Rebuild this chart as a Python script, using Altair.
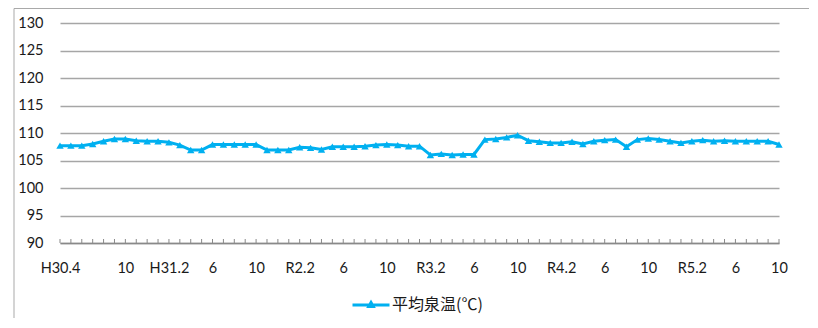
import altair as alt
import pandas as pd

# Monthly categories: H30.4 (2018-04) .. R5.10 (2023-10)
months = [f"{y}-{m:02d}" for y in range(2018, 2024) for m in range(1, 13)][3:3 + 67]

temps = [
    107.7, 107.7, 107.7, 108.0, 108.5, 108.9, 108.9, 108.6, 108.5, 108.5,
    108.3, 107.8, 106.9, 106.9, 107.9, 107.9, 107.9, 107.9, 107.9, 106.9,
    106.9, 106.9, 107.4, 107.3, 107.0, 107.5, 107.5, 107.5, 107.6, 107.8,
    107.9, 107.8, 107.6, 107.6, 106.0, 106.2, 106.0, 106.1, 106.1, 108.8,
    108.9, 109.2, 109.6, 108.6, 108.4, 108.2, 108.2, 108.4, 108.0, 108.5,
    108.7, 108.8, 107.5, 108.8, 109.0, 108.8, 108.5, 108.2, 108.5, 108.7,
    108.5, 108.6, 108.5, 108.5, 108.5, 108.5, 107.9,
]

label_months = ["2018-04", "2018-10", "2019-02", "2019-06", "2019-10", "2020-02",
                "2020-06", "2020-10", "2021-02", "2021-06", "2021-10", "2022-02",
                "2022-06", "2022-10", "2023-02", "2023-06", "2023-10"]
label_texts = ["H30.4", "10", "H31.2", "6", "10", "R2.2", "6", "10", "R3.2",
               "6", "10", "R4.2", "6", "10", "R5.2", "6", "10"]

y_ticks = [90, 95, 100, 105, 110, 115, 120, 125, 130]
series_name = "平均泉温(℃)"

df = pd.DataFrame({"month": months, "temp": temps, "series": series_name})

label_expr = "".join(f"datum.value == '{m}' ? '{t}' : " for m, t in zip(label_months, label_texts)) + "''"

W, H = 719, 220
BLUE = "#00B0F0"
TEXT = "#1a1a1a"
GRID = "#a6a6a6"
AXIS = "#898989"
FONT = "Lato"

x_scale = alt.Scale(type="point", padding=0)

x_enc = alt.X(
    "month:O",
    sort=months,
    scale=x_scale,
    axis=alt.Axis(
        title=None, labelAngle=0, labelAlign="center", labelBaseline="middle",
        ticks=False, grid=False,
        domainColor=AXIS, domainWidth=1.5,
        labelExpr=label_expr, labelFont=FONT, labelFontSize=14.5,
        labelColor=TEXT, labelPadding=25, labelOverlap=False,
        labelFlush=False,
    ),
)

y_enc = alt.Y(
    "temp:Q",
    scale=alt.Scale(domain=[90, 130], nice=False, zero=False),
    axis=alt.Axis(
        values=y_ticks, title=None, domain=False, ticks=False, tickSize=0,
        grid=True, gridColor=GRID, gridWidth=1.3,
        labelFont=FONT, labelFontSize=14.5, labelColor=TEXT, labelPadding=17,
    ),
)

base = alt.Chart(df)

border = alt.Chart(pd.DataFrame({"k": [0]})).mark_rect(
    fill="transparent", stroke="#a9a9a9", strokeWidth=1
).encode(
    x=alt.value(-46), x2=alt.value(W + 200),
    y=alt.value(-14.5), y2=alt.value(H + 200),
)

ticks = base.mark_rule(color=AXIS, strokeWidth=1).encode(
    x=x_enc,
    y=alt.value(H - 4), y2=alt.value(H),
)

line = base.mark_line(color=BLUE, strokeWidth=3).encode(x=x_enc, y=y_enc)

legend_path = "M-1,0H1M0,-0.13L0.12,0.08L-0.12,0.08Z"

points = base.mark_point(shape="triangle-up", filled=True, size=55, opacity=1).encode(
    x=x_enc, y=y_enc,
    color=alt.Color(
        "series:N",
        scale=alt.Scale(range=[BLUE]),
        legend=alt.Legend(
            title=None, orient="none", legendX=291, legendY=262,
            symbolType=legend_path, symbolSize=1369, symbolStrokeWidth=3,
            symbolFillColor=BLUE, symbolStrokeColor=BLUE, symbolOpacity=1,
            labelFont="Noto Sans CJK JP", labelFontSize=16, labelColor=TEXT,
            labelOffset=1,
        ),
    ),
)

chart = alt.layer(border, line, points, ticks).properties(
    width=W, height=H,
    padding={"left": 52, "top": 15, "right": 30, "bottom": 75},
    autosize="none",
    background="white",
).configure_view(stroke=None)

chart.save("out.html", embed_options={"renderer": "svg", "actions": False})
